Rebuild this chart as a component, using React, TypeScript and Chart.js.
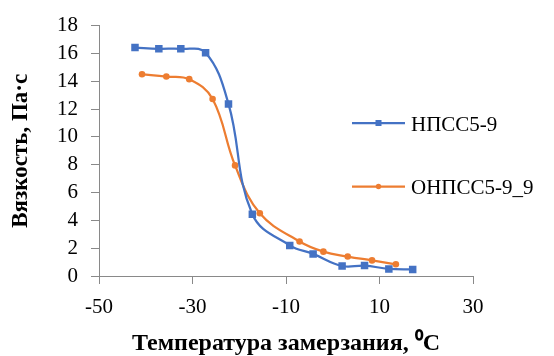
import React, { useEffect, useRef } from "react";
import { Chart, registerables } from "chart.js";

Chart.register(...registerables);

const xTitle = "Температура замерзания, ⁰C";
const yTitle = "Вязкость, Па·с";
const seriesNames = ["НПСС5-9", "ОНПСС5-9_9"];

const npssX = [-42.3, -37.2, -32.5, -27.2, -22.3, -17.2, -9.2, -4.2, 2.0, 6.8, 12.0, 17.1];
const npssY = [16.42, 16.33, 16.33, 16.05, 12.37, 4.44, 2.2, 1.59, 0.72, 0.75, 0.51, 0.47];

const onpssX = [-40.8, -35.6, -30.7, -25.7, -20.9, -15.6, -7.1, -2.0, 3.2, 8.4, 13.5];
const onpssY = [14.5, 14.34, 14.15, 12.72, 7.95, 4.51, 2.48, 1.75, 1.4, 1.12, 0.84];

const BLUE = "#4472C4";
const ORANGE = "#ED7D31";
const AXIS = "#898989";
const FONT = "Liberation Serif";

function pts(xs: number[], ys: number[]) {
  return xs.map((x, i) => ({ x, y: ys[i] }));
}

const legendPlugin = {
  id: "customLegend",
  afterDraw(chart: any) {
    const ctx = chart.ctx;
    const items = [
      { name: seriesNames[0], color: BLUE, style: "rect", y: 123, ty: 125.5 },
      { name: seriesNames[1], color: ORANGE, style: "circle", y: 186.5, ty: 188.5 },
    ];
    ctx.save();
    items.forEach((it) => {
      const x0 = 352;
      const x1 = 405;
      ctx.strokeStyle = it.color;
      ctx.lineWidth = 2.25;
      ctx.beginPath();
      ctx.moveTo(x0, it.y);
      ctx.lineTo(x1, it.y);
      ctx.stroke();
      ctx.fillStyle = it.color;
      const cx = (x0 + x1) / 2;
      if (it.style === "rect") {
        ctx.fillRect(cx - 3, it.y - 3, 6, 6);
      } else {
        ctx.beginPath();
        ctx.arc(cx, it.y, 2.7, 0, Math.PI * 2);
        ctx.fill();
      }
      ctx.fillStyle = "#000";
      ctx.font = `21px "${FONT}"`;
      ctx.textBaseline = "middle";
      ctx.textAlign = "left";
      ctx.fillText(it.name, 411, it.ty);
    });
    ctx.restore();
  },
};

export default function App() {
  const ref = useRef<HTMLCanvasElement | null>(null);
  useEffect(() => {
    if (!ref.current) return;
    Chart.defaults.font.family = FONT;
    const chart = new Chart(ref.current, {
      type: "scatter",
      data: {
        datasets: [
          {
            label: seriesNames[0],
            data: pts(npssX, npssY),
            showLine: true,
            borderColor: BLUE,
            backgroundColor: BLUE,
            borderWidth: 2.25,
            tension: 0.4,
            pointStyle: "rect",
            pointRadius: 5.3,
            pointBorderWidth: 0,
          },
          {
            label: seriesNames[1],
            data: pts(onpssX, onpssY),
            showLine: true,
            borderColor: ORANGE,
            backgroundColor: ORANGE,
            borderWidth: 2.25,
            tension: 0.4,
            pointStyle: "circle",
            pointRadius: 3.3,
            pointBorderWidth: 0,
          },
        ],
      },
      options: {
        animation: false,
        responsive: false,
        maintainAspectRatio: false,
        layout: { padding: { top: 20, right: 81, bottom: 0, left: 0 } },
        plugins: {
          legend: { display: false },
          tooltip: { enabled: false },
        },
        scales: {
          x: {
            type: "linear",
            min: -50,
            max: 30,
            afterFit: (s: any) => {
              s.height = 80;
            },
            ticks: {
              stepSize: 20,
              autoSkip: false,
              maxRotation: 0,
              color: "#000",
              padding: 11,
              font: { family: FONT, size: 21 },
            },
            grid: {
              display: true,
              drawOnChartArea: false,
              drawTicks: true,
              tickLength: 8,
              color: AXIS,
            },
            border: { color: AXIS, width: 1 },
            title: {
              display: true,
              text: xTitle,
              color: "#000",
              font: { family: FONT, size: 24, weight: "bold", lineHeight: 1 },
              padding: { top: 0, bottom: 0 },
            },
          },
          y: {
            type: "linear",
            min: 0,
            max: 18,
            afterFit: (s: any) => {
              s.width = 99;
            },
            ticks: {
              stepSize: 2,
              autoSkip: false,
              color: "#000",
              padding: 13,
              font: { family: FONT, size: 21 },
            },
            grid: {
              display: true,
              drawOnChartArea: false,
              drawTicks: true,
              tickLength: 8,
              color: AXIS,
            },
            border: { color: AXIS, width: 1 },
            title: {
              display: true,
              text: yTitle,
              color: "#000",
              font: { family: FONT, size: 23, weight: "bold", lineHeight: 1 },
              padding: { top: 10, bottom: 0 },
            },
          },
        },
      },
      plugins: [legendPlugin],
    });
    return () => chart.destroy();
  }, []);
  return (
    <div style={{ position: "fixed", left: 0, top: 0, width: 554, height: 356, background: "#fff" }}>
      <canvas ref={ref} width={554} height={356} style={{ width: 554, height: 356 }} />
    </div>
  );
}
